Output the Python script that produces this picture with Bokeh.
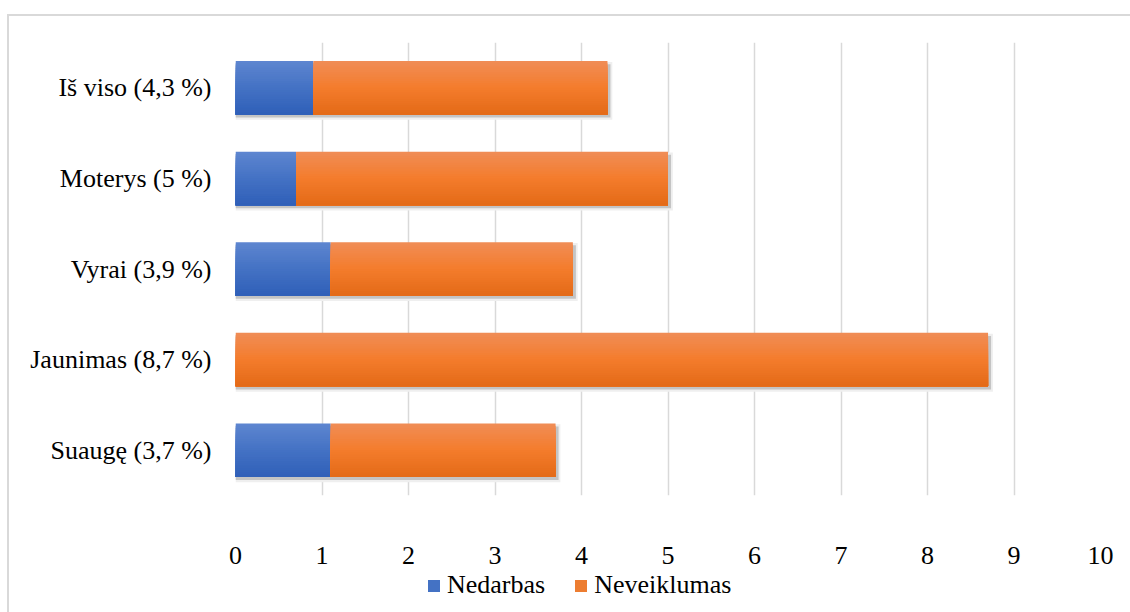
from bokeh.plotting import figure
from bokeh.layouts import column
from bokeh.models import ColumnDataSource, Legend, LegendItem, FixedTicker
from bokeh.embed import file_html
from bokeh.resources import INLINE

# Data (top to bottom as displayed)
categories = ["Iš viso (4,3 %)", "Moterys (5 %)", "Vyrai (3,9 %)", "Jaunimas (8,7 %)", "Suaugę (3,7 %)"]
nedarbas = [0.9, 0.7, 1.1, 0.0, 1.1]
neveiklumas = [3.4, 4.3, 2.8, 8.7, 2.6]
x_ticks = [0, 1, 2, 3, 4, 5, 6, 7, 8, 9, 10]
series_names = ["Nedarbas", "Neveiklumas"]

FONT = "Liberation Serif"
FONT_SIZE = "26px"
BAR_H = 0.59
N_STRIPS = 24

ypos = [len(categories) - 1 - i for i in range(len(categories))]
totals = [a + b for a, b in zip(nedarbas, neveiklumas)]

p = figure(width=1121, height=553, x_range=(0, 10), y_range=(-0.5, 4.5),
           output_backend="svg", toolbar_location=None,
           min_border_left=226, min_border_right=30, min_border_top=26, min_border_bottom=74)
p.outline_line_color = None
p.background_fill_color = "white"
p.border_fill_color = "white"

# Grid
p.ygrid.grid_line_color = None
p.xgrid.ticker = FixedTicker(ticks=x_ticks)
p.xgrid.grid_line_color = "#d9d9d9"
p.xgrid.grid_line_width = 1.5

# Axes
p.xaxis.ticker = FixedTicker(ticks=x_ticks)
p.yaxis.ticker = FixedTicker(ticks=ypos)
p.yaxis.major_label_overrides = {y: c for y, c in zip(ypos, categories)}
for ax in (p.xaxis[0], p.yaxis[0]):
    ax.axis_line_color = None
    ax.major_tick_line_color = None
    ax.minor_tick_line_color = None
    ax.major_label_text_font = FONT
    ax.major_label_text_font_size = FONT_SIZE
    ax.major_label_text_color = "#000000"
p.xaxis.major_label_standoff = 45
p.yaxis.major_label_standoff = 18

# Soft drop shadow behind each full bar
dx, dy = 0.035, 0.034
shadow_outer = ColumnDataSource(dict(y=[y - dy for y in ypos], left=[0.0] * len(ypos),
                                     right=[t + dx * 1.6 for t in totals]))
p.hbar(y="y", left="left", right="right", height=BAR_H + 0.05, source=shadow_outer,
       fill_color="#efefef", line_color=None)
shadow_inner = ColumnDataSource(dict(y=[y - dy for y in ypos], left=[0.0] * len(ypos),
                                     right=[t + dx for t in totals]))
p.hbar(y="y", left="left", right="right", height=BAR_H, source=shadow_inner,
       fill_color="#c4c4c4", line_color=None)


def hex_to_rgb(h):
    h = h.lstrip("#")
    return tuple(int(h[i:i + 2], 16) for i in (0, 2, 4))


def mix(c1, c2, t):
    a, b = hex_to_rgb(c1), hex_to_rgb(c2)
    return "#%02x%02x%02x" % tuple(round(a[i] + (b[i] - a[i]) * t) for i in range(3))


def gradient(top, mid, bot, t):
    if t < 0.5:
        return mix(top, mid, t / 0.5)
    return mix(mid, bot, (t - 0.5) / 0.5)


def gradient_bar(lefts, rights, top, mid, bot):
    # Each layer runs from its own top edge down to the bar bottom, so later
    # layers cover earlier ones without leaving seams.
    strip = BAR_H / N_STRIPS
    for k in range(N_STRIPS):
        col = gradient(top, mid, bot, (k + 0.5) / N_STRIPS)
        src = ColumnDataSource(dict(
            top=[y + BAR_H / 2 - k * strip for y in ypos],
            bottom=[y - BAR_H / 2 for y in ypos],
            left=lefts, right=rights))
        p.quad(top="top", bottom="bottom", left="left", right="right", source=src,
               fill_color=col, line_color=None)


# Stacked series with vertical gradient fill
gradient_bar([0.0] * len(nedarbas), nedarbas, "#5e86d0", "#4472c4", "#2f5fb8")
gradient_bar(nedarbas, totals, "#f08d57", "#f47c2c", "#e36a17")

# Legend strip under the chart
leg = figure(width=1121, height=43, x_range=(0, 1), y_range=(0, 1),
             output_backend="svg", toolbar_location=None,
             x_axis_type=None, y_axis_type=None,
             min_border_left=0, min_border_right=0, min_border_top=0, min_border_bottom=0)
leg.outline_line_color = None
leg.xgrid.visible = False
leg.ygrid.visible = False
blue_r = leg.hbar(y=[-5], left=[0], right=[1], height=0.5, fill_color="#4472c4", line_color=None)
orange_r = leg.hbar(y=[-5], left=[0], right=[1], height=0.5, fill_color="#ed7d31", line_color=None)
legend = Legend(items=[LegendItem(label=series_names[0], renderers=[blue_r]),
                       LegendItem(label=series_names[1], renderers=[orange_r])],
                orientation="horizontal", location=(191, 12),
                label_text_font=FONT, label_text_font_size=FONT_SIZE, label_text_color="#000000",
                glyph_width=15, glyph_height=15, label_standoff=6, spacing=28,
                border_line_color=None, background_fill_alpha=0, padding=0, margin=0)
leg.add_layout(legend, "center")

page = column(p, leg, spacing=0,
              styles={"margin-left": "7px", "margin-top": "14px",
                      "border-left": "2px solid #d9d9d9", "border-top": "2px solid #d9d9d9"})

open("out.html", "w").write(file_html(page, INLINE))
